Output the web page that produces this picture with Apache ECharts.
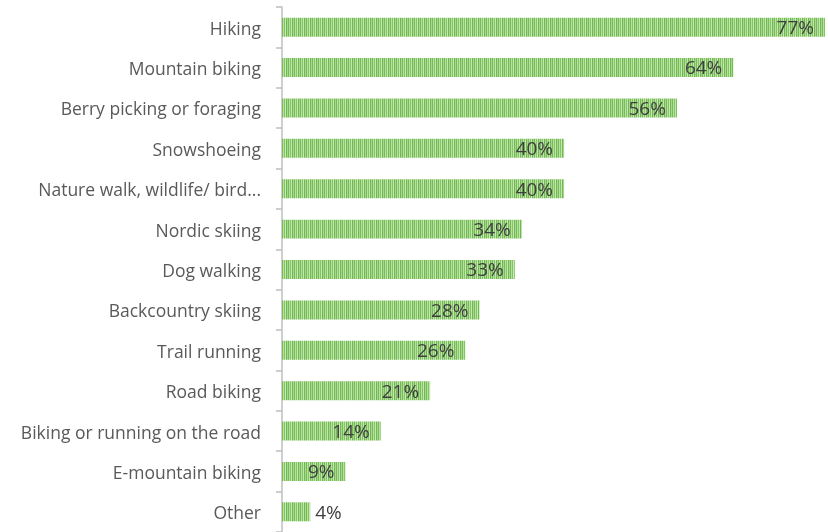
<!DOCTYPE html>
<html>
<head>
<meta charset="utf-8">
<script src="https://cdn.jsdelivr.net/npm/echarts@6/dist/echarts.min.js"></script>
<style>
  html, body { margin: 0; padding: 0; background: #fff; }
  #chart { width: 828px; height: 532px; }
</style>
</head>
<body>
<div id="chart"></div>
<script>
const categories = [
  'Hiking',
  'Mountain biking',
  'Berry picking or foraging',
  'Snowshoeing',
  'Nature walk, wildlife/ bird...',
  'Nordic skiing',
  'Dog walking',
  'Backcountry skiing',
  'Trail running',
  'Road biking',
  'Biking or running on the road',
  'E-mountain biking',
  'Other'
]
const values = [77, 64, 56, 40, 40, 34, 33, 28, 26, 21, 14, 9, 4]

// striped green fill like the original bars
function stripePattern() {
  const c = document.createElement('canvas')
  c.width = 6
  c.height = 20
  const ctx = c.getContext('2d')
  const cols = ['#74bd52', '#b9e0a4', '#82c564', '#c6e6b4', '#70b94e', '#a9d792']
  cols.forEach((col, i) => {
    ctx.fillStyle = col
    ctx.fillRect(i, 0, 1, 20)
  })
  return c
}

const chart = echarts.init(document.getElementById('chart'))
const pattern = { image: stripePattern(), repeat: 'repeat' }

chart.setOption({
  animation: false,
  grid: { left: 282, right: 3, top: 7, bottom: -2.5 },
  xAxis: {
    type: 'value',
    min: 0,
    max: 77,
    show: false
  },
  yAxis: {
    type: 'category',
    inverse: true,
    data: categories,
    axisLine: { show: true, lineStyle: { color: '#bfbfbf', width: 1.5 } },
    axisTick: { show: true, length: 6, lineStyle: { color: '#bfbfbf', width: 1.5 } },
    axisLabel: {
      color: '#595959',
      fontFamily: 'Open Sans',
      fontSize: 17.5,
      margin: 21,
      // nudge text a few px down, to sit like the original
      verticalAlign: 'top',
      lineHeight: 5
    }
  },
  series: [{
    type: 'bar',
    data: values.map((v, i) => ({
      value: v,
      label: i === values.length - 1 ? { position: 'right', distance: 5 } : {}
    })),
    barWidth: '47%',
    itemStyle: { color: pattern },
    label: {
      show: true,
      position: 'insideRight',
      distance: 11,
      color: '#3f3f3f',
      fontFamily: 'Open Sans',
      fontSize: 19,
      verticalAlign: 'top',
      lineHeight: 3,
      formatter: '{c}%'
    }
  }]
})
</script>
</body>
</html>
